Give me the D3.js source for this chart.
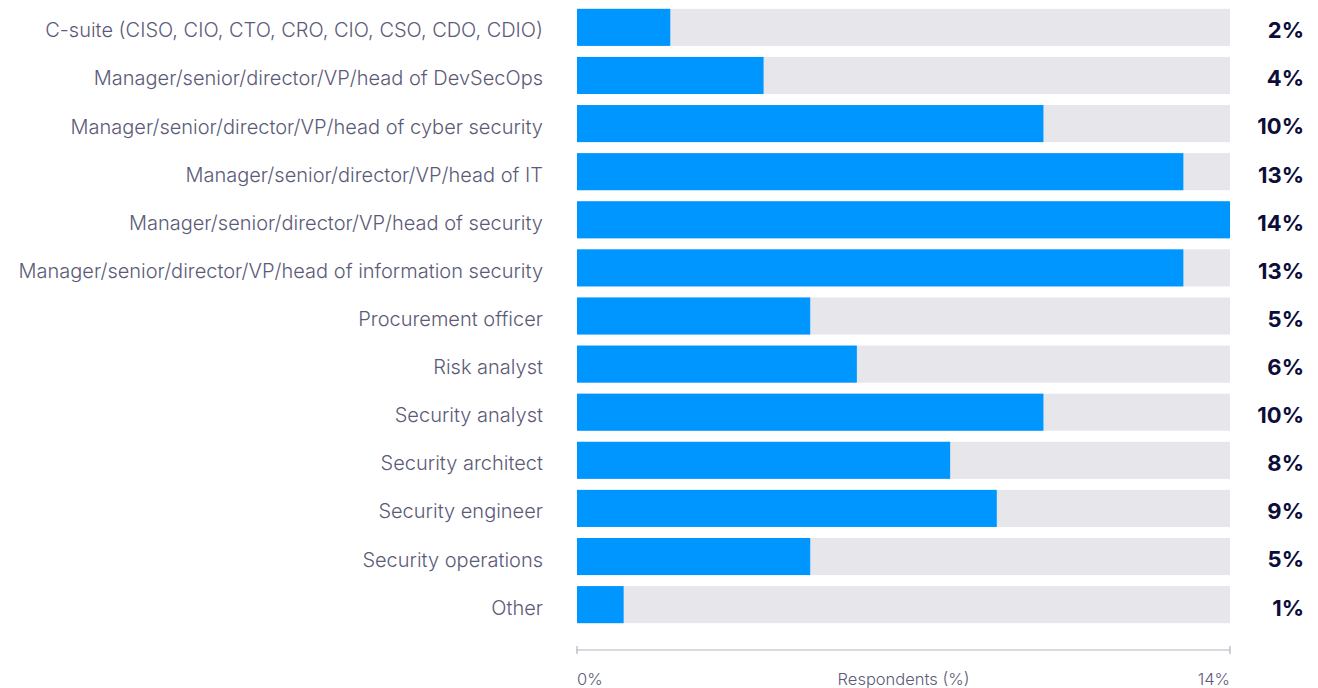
<!DOCTYPE html>
<html>
<head>
<meta charset="utf-8">
<script src="https://cdn.jsdelivr.net/npm/d3@7"></script>
<style>
  html, body { margin: 0; padding: 0; background: #ffffff; }
  svg { display: block; }
  .cat { font-family: Inter, "Noto Sans", sans-serif; font-weight: 300; font-size: 20px; fill: #5b5b78; }
  .val { font-family: Inter, "Noto Sans", sans-serif; font-weight: 700; font-size: 22px; fill: #0d0d3a; }
  .axis-text { font-family: Inter, "Noto Sans", sans-serif; font-weight: 300; font-size: 16.5px; fill: #5b5b78; }
</style>
</head>
<body>
<svg id="chart" width="1318" height="688"></svg>
<script>
// Job roles of respondents and their share (%)
const categories = [
  "C-suite (CISO, CIO, CTO, CRO, CIO, CSO, CDO, CDIO)",
  "Manager/senior/director/VP/head of DevSecOps",
  "Manager/senior/director/VP/head of cyber security",
  "Manager/senior/director/VP/head of IT",
  "Manager/senior/director/VP/head of security",
  "Manager/senior/director/VP/head of information security",
  "Procurement officer",
  "Risk analyst",
  "Security analyst",
  "Security architect",
  "Security engineer",
  "Security operations",
  "Other"
];
const values = [2, 4, 10, 13, 14, 13, 5, 6, 10, 8, 9, 5, 1];
const axisMax = 14;
const tickLabels = ["0%", "14%"];
const axisTitle = "Respondents (%)";

const svg = d3.select("#chart");

const x = d3.scaleLinear().domain([0, axisMax]).range([577, 1230]);
const y = d3.scaleBand().domain(categories).range([4, 628]).paddingInner(0.229).paddingOuter(0.1);

// background tracks
svg.append("g").selectAll("rect").data(categories).join("rect")
  .attr("x", x(0))
  .attr("y", d => y(d))
  .attr("width", x(axisMax) - x(0))
  .attr("height", y.bandwidth())
  .attr("fill", "#e6e6eb");

// value bars
svg.append("g").selectAll("rect").data(values).join("rect")
  .attr("x", x(0))
  .attr("y", (d, i) => y(categories[i]))
  .attr("width", d => x(d) - x(0))
  .attr("height", y.bandwidth())
  .attr("fill", "#0096ff");

// category labels
svg.append("g").selectAll("text").data(categories).join("text")
  .attr("class", "cat")
  .attr("x", 543)
  .attr("y", d => y(d) + y.bandwidth() / 2 + 3)
  .attr("dy", "0.35em")
  .attr("text-anchor", "end")
  .text(d => d);

// value labels
svg.append("g").selectAll("text").data(values).join("text")
  .attr("class", "val")
  .attr("x", 1304)
  .attr("y", (d, i) => y(categories[i]) + y.bandwidth() / 2 + 3)
  .attr("dy", "0.36em")
  .attr("text-anchor", "end")
  .text(d => d + "%");

// bottom axis
const axis = d3.axisBottom(x).tickValues([]).tickSizeOuter(4);
const axisG = svg.append("g").attr("transform", "translate(0,650)").call(axis);
axisG.select(".domain").attr("stroke", "#b4b4bf").attr("stroke-width", 1.2)
  .attr("d", `M${x(0)},-4V0H${x(axisMax)}V-4`);
axisG.append("path")
  .attr("d", `M${x(0)},0V4M${x(axisMax)},0V4`)
  .attr("stroke", "#b4b4bf").attr("stroke-width", 1.2);

svg.append("text").attr("class", "axis-text")
  .attr("x", x(0)).attr("y", 685).attr("text-anchor", "start").text(tickLabels[0]);
svg.append("text").attr("class", "axis-text")
  .attr("x", x(axisMax)).attr("y", 685).attr("text-anchor", "end").text(tickLabels[1]);
svg.append("text").attr("class", "axis-text")
  .attr("x", (x(0) + x(axisMax)) / 2).attr("y", 685).attr("text-anchor", "middle").text(axisTitle);
</script>
</body>
</html>
